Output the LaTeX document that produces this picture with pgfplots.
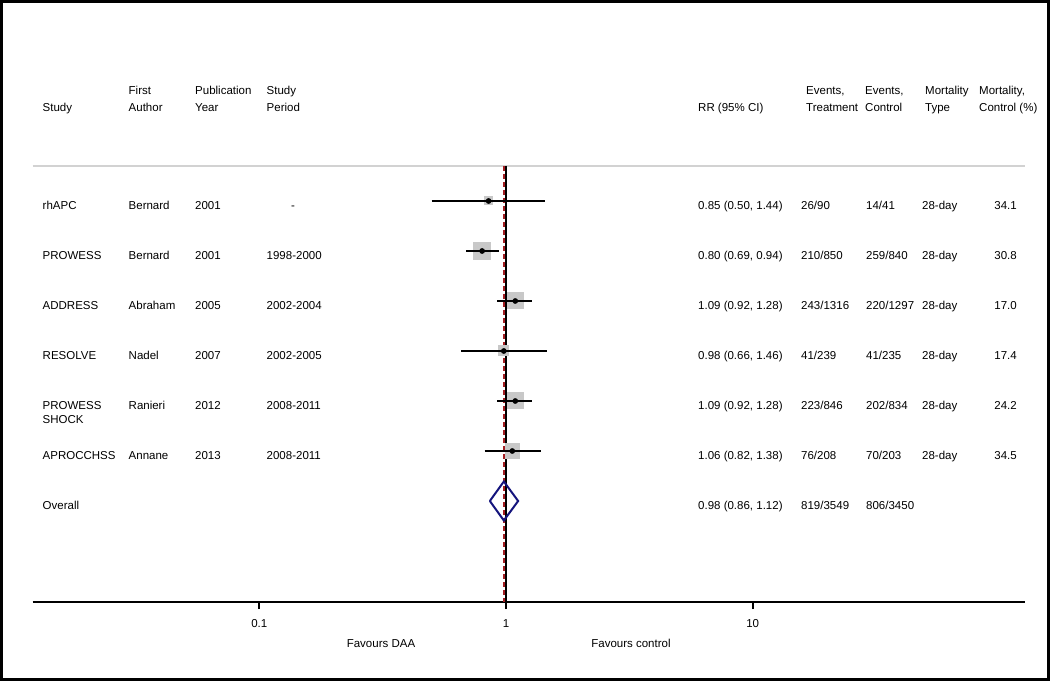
\documentclass[border=0pt]{standalone}
\usepackage{pgfplots}
\pgfplotsset{compat=1.18}
\usepackage{fontspec}
\setmainfont{Liberation Sans}

\definecolor{sqgray}{RGB}{200,200,200}
\definecolor{rulegray}{RGB}{210,210,210}
\definecolor{refred}{RGB}{165,30,35}
\definecolor{diamblue}{RGB}{20,20,125}

\newcommand{\tx}[3]{\node[anchor=base west, inner sep=0pt] at (#1,#2) {#3};}
\newcommand{\tr}[3]{\node[anchor=base east, inner sep=0pt] at (#1,#2) {#3};}

\begin{document}
\begin{tikzpicture}[font=\fontsize{11.5}{14}\selectfont]
\begin{axis}[
  at={(32.5pt,79pt)}, anchor=south west,
  scale only axis, width=992.5pt, height=602pt,
  xmode=log, xmin=0.01204, xmax=127,
  ymin=-602, ymax=0,
  axis x line*=bottom, axis y line=none,
  axis line style={line width=2pt, -},
  xtick={0.1,1,10}, xticklabels={0.1,1,10}, xminorticks=false,
  tick align=outside, major tick length=7pt,
  tick style={black, line width=1.8pt},
  xticklabel style={anchor=base, yshift=-18pt, inner sep=0pt},
  clip=false, set layers=standard,
  sq/.style={only marks, mark=square*, mark size=#1, sqgray,
    mark options={draw=sqgray, fill=sqgray, line width=0pt}},
  ci/.style={black, line width=2pt, on layer=axis foreground},
]
% separator and reference lines
\addplot[rulegray, line width=2pt] coordinates {(0.01204,-166) (127,-166)};
\addplot[black, line width=1.5pt] coordinates {(1,-166) (1,-602)};
\addplot[refred, line width=2pt, dash pattern=on 5pt off 3pt] coordinates {(0.98,-166) (0.98,-602)};

% weight squares (half side in pt)
\addplot[sq=4]   coordinates {(0.85,-201)};
\addplot[sq=8.4] coordinates {(0.80,-251)};
\addplot[sq=8]   coordinates {(1.09,-301)};
\addplot[sq=5]   coordinates {(0.98,-351)};
\addplot[sq=8]   coordinates {(1.09,-401)};
\addplot[sq=7]   coordinates {(1.06,-451)};

% confidence intervals
\addplot[ci] coordinates {(0.50,-201) (1.44,-201)};
\addplot[ci] coordinates {(0.69,-251) (0.94,-251)};
\addplot[ci] coordinates {(0.92,-301) (1.28,-301)};
\addplot[ci] coordinates {(0.66,-351) (1.46,-351)};
\addplot[ci] coordinates {(0.92,-401) (1.28,-401)};
\addplot[ci] coordinates {(0.82,-451) (1.38,-451)};

% point estimates
\addplot[only marks, mark=*, mark size=2.6pt, black, mark layer=axis foreground]
  coordinates {(0.85,-201) (0.80,-251) (1.09,-301) (0.98,-351) (1.09,-401) (1.06,-451)};

% overall diamond
\addplot[diamblue, line width=2pt, line join=miter]
  coordinates {(0.86,-501) (0.98,-481.5) (1.12,-501) (0.98,-520.5) (0.86,-501)};
\end{axis}

\begin{scope}[x=1pt, y=-1pt, shift={(0pt,681pt)}]
\draw[line width=3pt] (1.5,1.5) rectangle (1048.5,679.5);

% header
\tx{42.5}{111.4}{Study}
\tx{128.5}{94.1}{First}       \tx{128.5}{111.4}{Author}
\tx{195}{94.1}{Publication}   \tx{195}{111.4}{Year}
\tx{266.5}{94.1}{Study}       \tx{266.5}{111.4}{Period}
\tx{698}{111.4}{RR (95\% CI)}
\tx{806}{94.1}{Events,}       \tx{806}{111.4}{Treatment}
\tx{865}{94.1}{Events,}       \tx{865}{111.4}{Control}
\tx{925}{94.1}{Mortality}     \tx{925}{111.4}{Type}
\tx{979}{94.1}{Mortality,}    \tx{979}{111.4}{Control (\%)}

% rows
\tx{42.5}{209.1}{rhAPC}   \tx{128.5}{209.1}{Bernard} \tx{195}{209.1}{2001} \tx{291}{209.1}{-}
\tx{698}{209.1}{0.85 (0.50, 1.44)} \tx{801}{209.1}{26/90} \tx{866}{209.1}{14/41} \tx{922}{209.1}{28-day} \tr{1017}{209.1}{34.1}

\tx{42.5}{259.1}{PROWESS} \tx{128.5}{259.1}{Bernard} \tx{195}{259.1}{2001} \tx{266.5}{259.1}{1998-2000}
\tx{698}{259.1}{0.80 (0.69, 0.94)} \tx{801}{259.1}{210/850} \tx{866}{259.1}{259/840} \tx{922}{259.1}{28-day} \tr{1017}{259.1}{30.8}

\tx{42.5}{309.1}{ADDRESS} \tx{128.5}{309.1}{Abraham} \tx{195}{309.1}{2005} \tx{266.5}{309.1}{2002-2004}
\tx{698}{309.1}{1.09 (0.92, 1.28)} \tx{801}{309.1}{243/1316} \tx{866}{309.1}{220/1297} \tx{922}{309.1}{28-day} \tr{1017}{309.1}{17.0}

\tx{42.5}{359.1}{RESOLVE} \tx{128.5}{359.1}{Nadel} \tx{195}{359.1}{2007} \tx{266.5}{359.1}{2002-2005}
\tx{698}{359.1}{0.98 (0.66, 1.46)} \tx{801}{359.1}{41/239} \tx{866}{359.1}{41/235} \tx{922}{359.1}{28-day} \tr{1017}{359.1}{17.4}

\tx{42.5}{409.1}{PROWESS} \tx{42.5}{423.1}{SHOCK} \tx{128.5}{409.1}{Ranieri} \tx{195}{409.1}{2012} \tx{266.5}{409.1}{2008-2011}
\tx{698}{409.1}{1.09 (0.92, 1.28)} \tx{801}{409.1}{223/846} \tx{866}{409.1}{202/834} \tx{922}{409.1}{28-day} \tr{1017}{409.1}{24.2}

\tx{42.5}{459.1}{APROCCHSS} \tx{128.5}{459.1}{Annane} \tx{195}{459.1}{2013} \tx{266.5}{459.1}{2008-2011}
\tx{698}{459.1}{1.06 (0.82, 1.38)} \tx{801}{459.1}{76/208} \tx{866}{459.1}{70/203} \tx{922}{459.1}{28-day} \tr{1017}{459.1}{34.5}

\tx{42.5}{509.1}{Overall}
\tx{698}{509.1}{0.98 (0.86, 1.12)} \tx{801}{509.1}{819/3549} \tx{866}{509.1}{806/3450}

% favours labels
\node[anchor=base, inner sep=0pt] at (381,647) {Favours DAA};
\node[anchor=base, inner sep=0pt] at (631,647) {Favours control};
\end{scope}
\end{tikzpicture}
\end{document}
